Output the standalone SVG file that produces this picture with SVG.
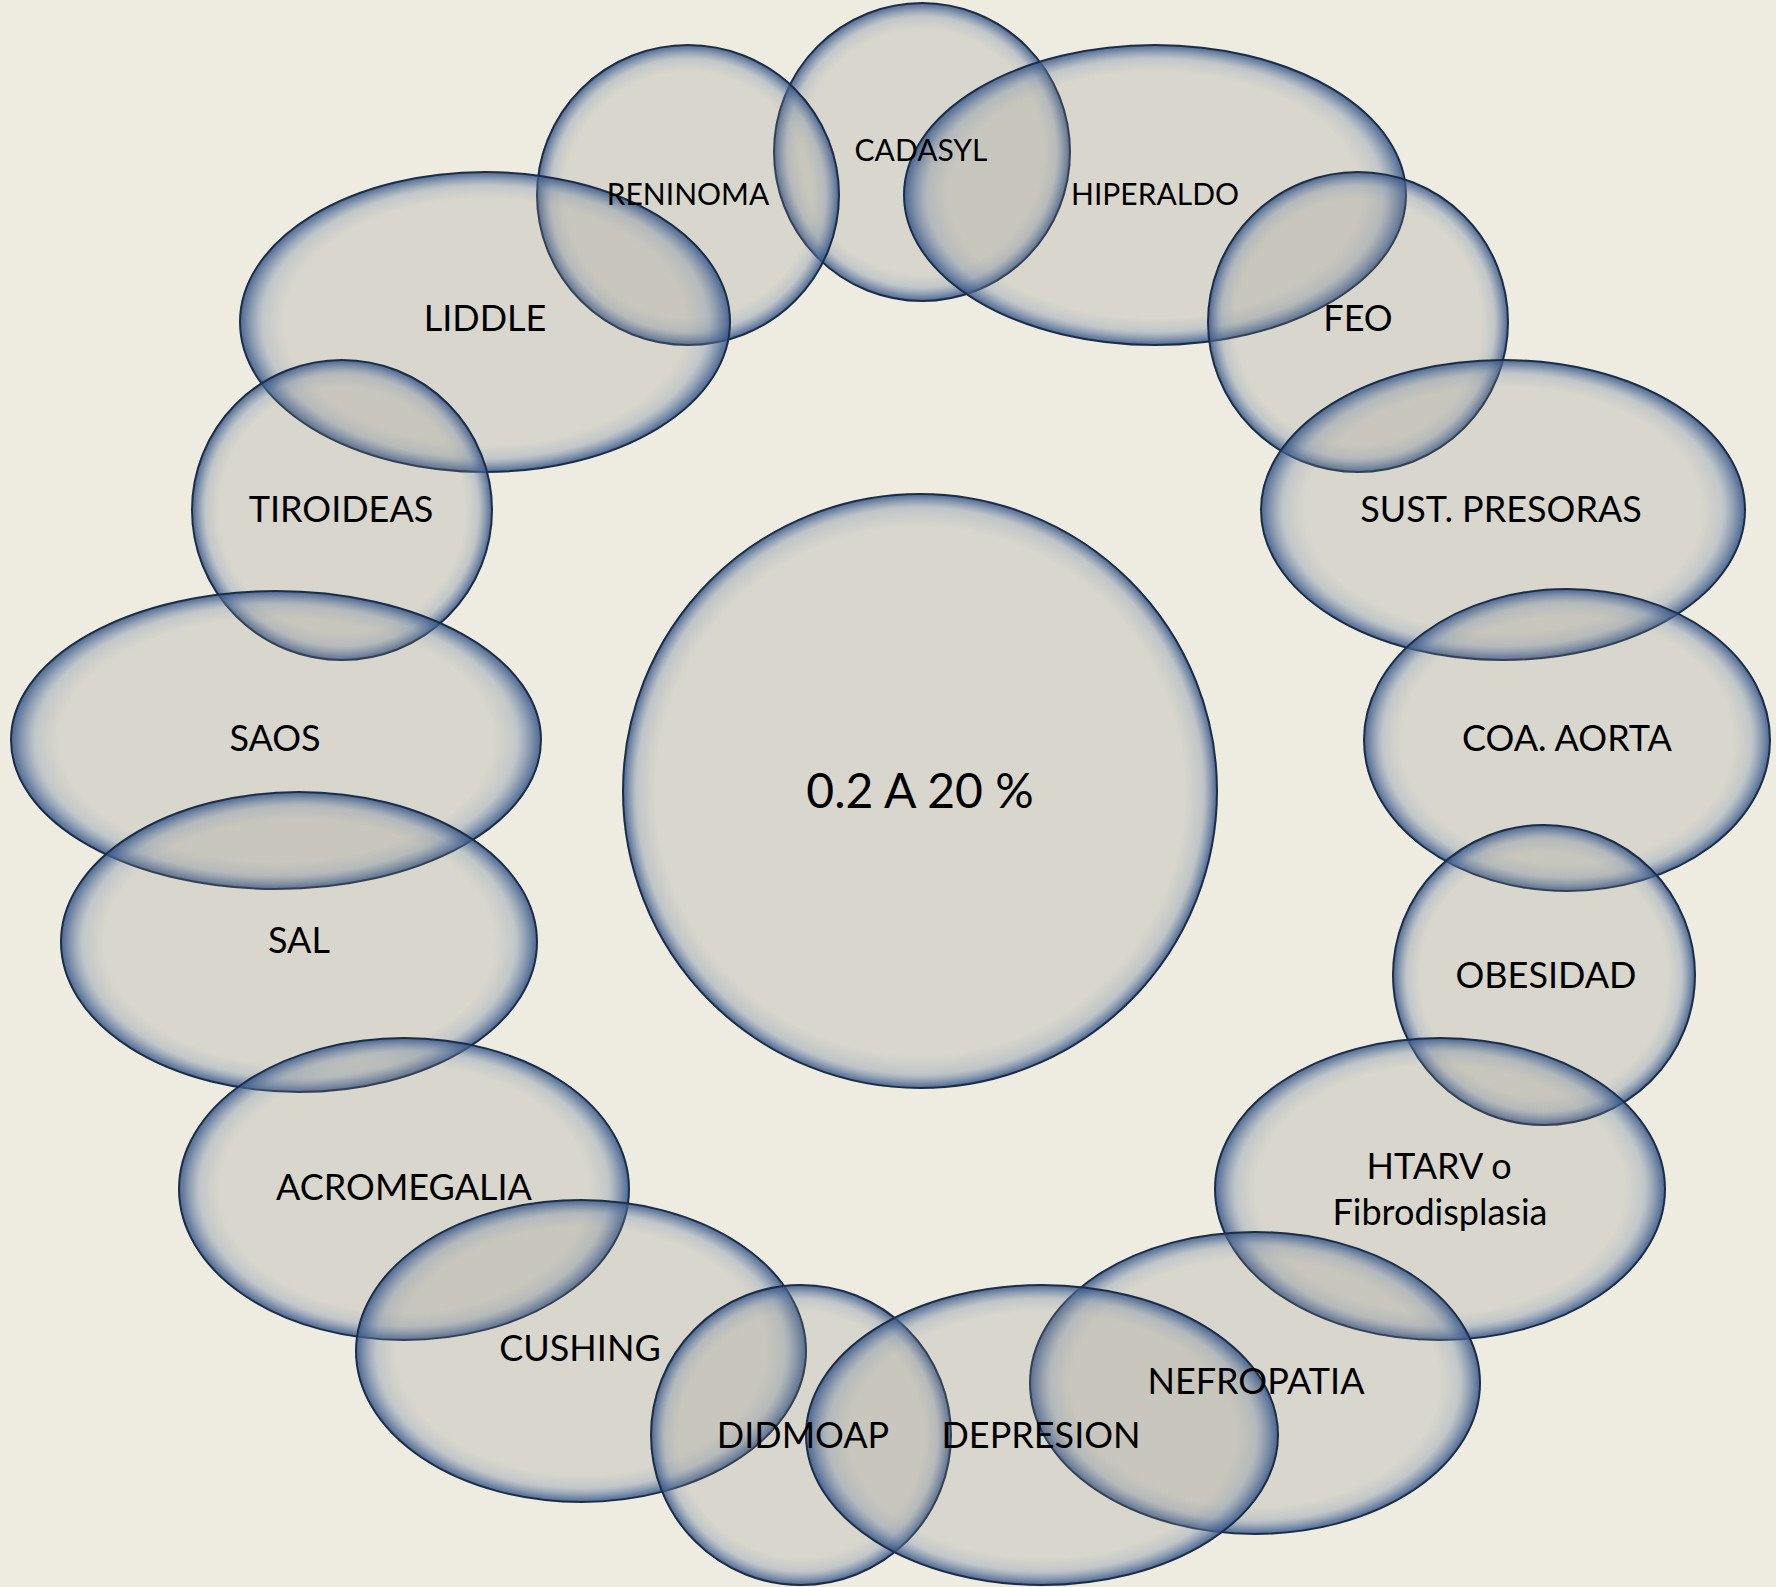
<svg xmlns="http://www.w3.org/2000/svg" width="1776" height="1587" viewBox="0 0 1776 1587">
<defs>
<radialGradient id="bub">
<stop offset="0" stop-color="#8c8b85" stop-opacity="0.22"/>
<stop offset="0.82" stop-color="#8c8b85" stop-opacity="0.22"/>
<stop offset="0.91" stop-color="#6f839f" stop-opacity="0.36"/>
<stop offset="1" stop-color="#34558a" stop-opacity="0.88"/>
</radialGradient>
<radialGradient id="bubc">
<stop offset="0" stop-color="#8c8b85" stop-opacity="0.22"/>
<stop offset="0.89" stop-color="#8c8b85" stop-opacity="0.22"/>
<stop offset="0.955" stop-color="#6f839f" stop-opacity="0.38"/>
<stop offset="1" stop-color="#34558a" stop-opacity="0.88"/>
</radialGradient>
</defs>
<style>
.b{fill:url(#bub);stroke:#1d2d44;stroke-width:2}
.c{fill:url(#bubc);stroke:#1d2d44;stroke-width:2}
text{font-family:Lato,"Liberation Sans",sans-serif;fill:#000;text-anchor:middle}
.s{font-size:30px}
.m{font-size:36px}
.l{font-size:48px}
</style>
<rect width="1776" height="1587" fill="#eeece1"/>
<g id="center"><circle class="c" cx="920" cy="791" r="297"/><text class="l" x="920" y="808">0.2 A 20 %</text></g>
<g id="cadasyl"><ellipse class="b" cx="922" cy="152" rx="148" ry="149"/></g>
<g id="reninoma"><ellipse class="b" cx="688" cy="195" rx="151" ry="150"/></g>
<g id="hiperaldo"><ellipse class="b" cx="1155" cy="195" rx="251" ry="150"/></g>
<g id="liddle"><ellipse class="b" cx="485" cy="322" rx="245" ry="150"/></g>
<g id="feo"><ellipse class="b" cx="1358" cy="322" rx="150" ry="150"/></g>
<g id="tiroideas"><ellipse class="b" cx="342" cy="510" rx="150" ry="150"/></g>
<g id="sust"><ellipse class="b" cx="1503" cy="510" rx="242" ry="150"/></g>
<g id="saos"><ellipse class="b" cx="276" cy="740" rx="265" ry="149"/></g>
<g id="coa"><ellipse class="b" cx="1567" cy="740" rx="203" ry="151"/></g>
<g id="sal"><ellipse class="b" cx="299" cy="942" rx="238" ry="150"/></g>
<g id="obesidad"><ellipse class="b" cx="1544" cy="975" rx="151" ry="150"/></g>
<g id="acromegalia"><ellipse class="b" cx="404" cy="1189" rx="225" ry="151"/></g>
<g id="htarv"><ellipse class="b" cx="1440" cy="1189" rx="225" ry="151"/></g>
<g id="cushing"><ellipse class="b" cx="581" cy="1351" rx="225" ry="151"/></g>
<g id="nefropatia"><ellipse class="b" cx="1255" cy="1383" rx="225" ry="151"/></g>
<g id="didmoap"><ellipse class="b" cx="801" cy="1435" rx="150" ry="150"/></g>
<g id="depresion"><ellipse class="b" cx="1042" cy="1435" rx="236" ry="150"/></g>
<g id="labels">
<text class="s" x="921" y="161">CADASYL</text>
<text class="s" x="688" y="205">RENINOMA</text>
<text class="s" x="1155" y="205">HIPERALDO</text>
<text class="m" x="485" y="331">LIDDLE</text>
<text class="m" x="1358" y="331">FEO</text>
<text class="m" x="341" y="522">TIROIDEAS</text>
<text class="m" x="1501" y="522">SUST. PRESORAS</text>
<text class="m" x="275" y="751">SAOS</text>
<text class="m" x="1567" y="751">COA. AORTA</text>
<text class="m" x="299" y="953">SAL</text>
<text class="m" x="1546" y="988">OBESIDAD</text>
<text class="m" x="404" y="1200">ACROMEGALIA</text>
<text class="m" x="1439" y="1179">HTARV o</text>
<text class="m" x="1440" y="1225">Fibrodisplasia</text>
<text class="m" x="580" y="1361">CUSHING</text>
<text class="m" x="1256" y="1394">NEFROPATIA</text>
<text class="m" x="803" y="1448">DIDMOAP</text>
<text class="m" x="1041" y="1448">DEPRESION</text>
</g>
</svg>
